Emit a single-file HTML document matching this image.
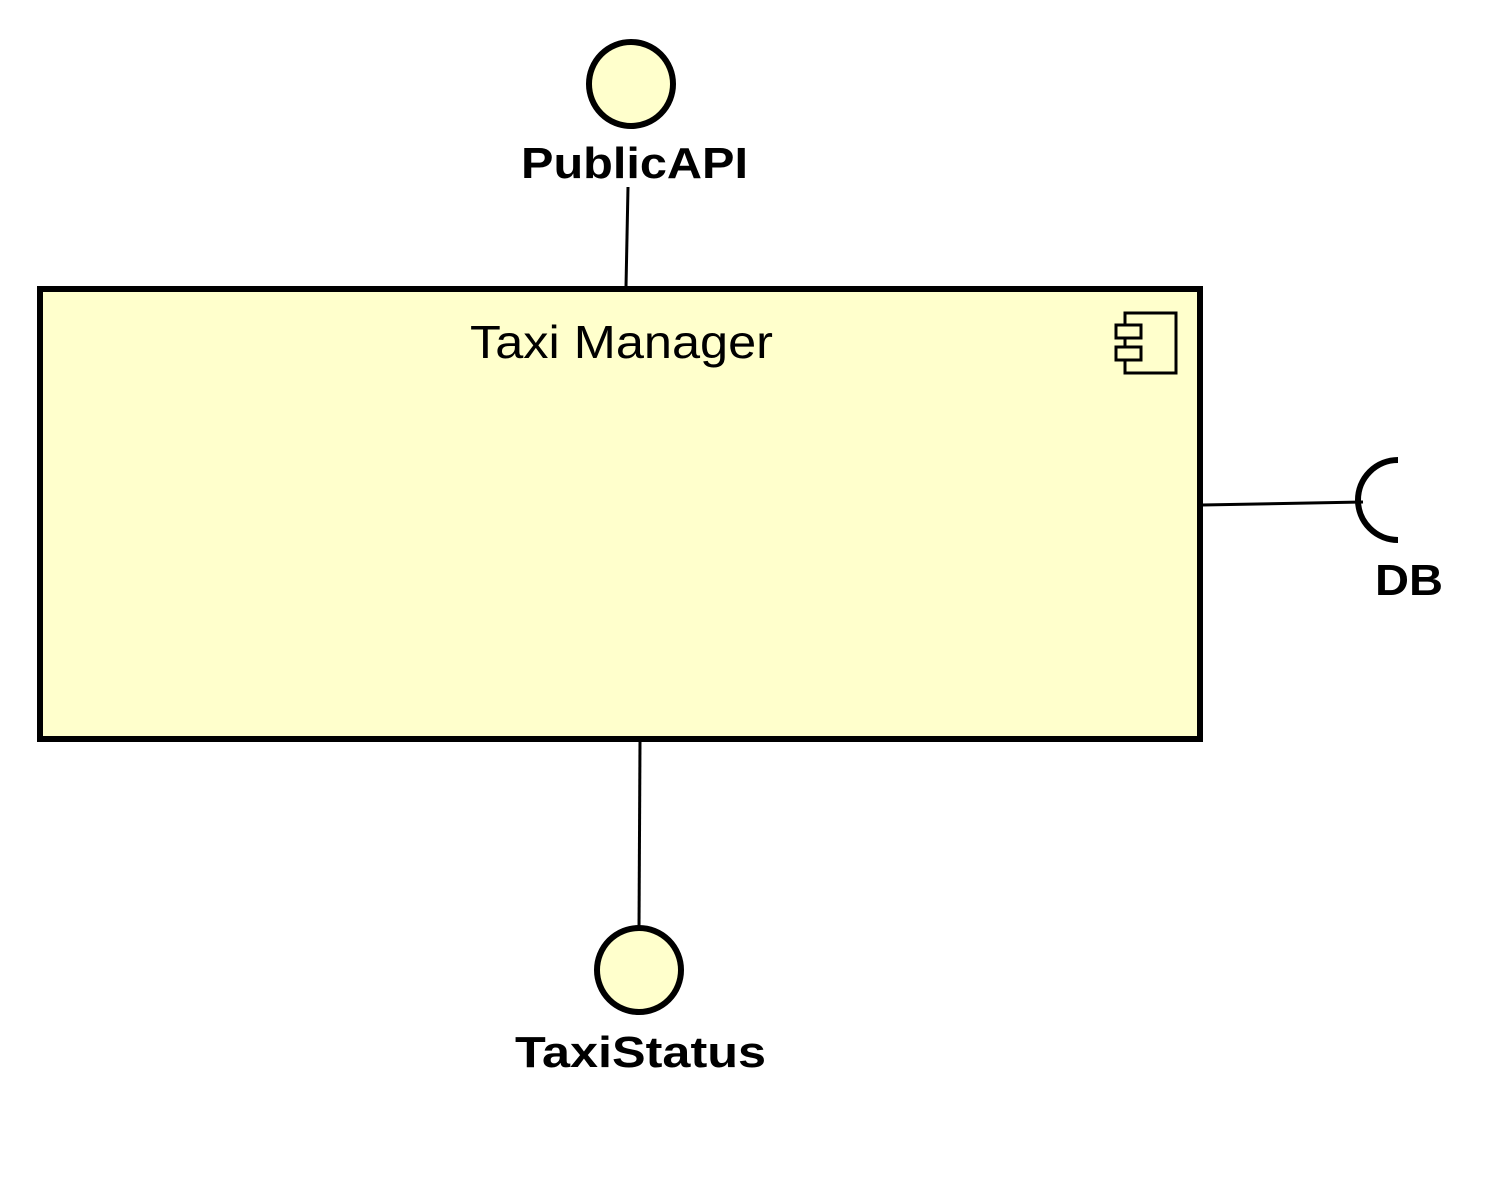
<!DOCTYPE html>
<html><head><meta charset="utf-8"><style>html,body{margin:0;padding:0;background:#fff}</style></head>
<body>
<svg width="1491" height="1195" xmlns="http://www.w3.org/2000/svg" style="display:block">
<rect x="0" y="0" width="1491" height="1195" fill="#fff"/>
<line x1="628" y1="187" x2="626" y2="287" stroke="#000" stroke-width="3"/>
<line x1="640" y1="741" x2="639" y2="928" stroke="#000" stroke-width="3"/>
<line x1="1202" y1="505" x2="1363" y2="502" stroke="#000" stroke-width="3"/>
<rect x="40" y="289" width="1160" height="450" fill="#ffffcc" stroke="#000" stroke-width="6"/>
<rect x="1125" y="313" width="51" height="60" fill="none" stroke="#000" stroke-width="3"/>
<rect x="1116" y="325" width="25" height="13" fill="#ffffcc" stroke="#000" stroke-width="3"/>
<rect x="1116" y="347" width="25" height="13" fill="#ffffcc" stroke="#000" stroke-width="3"/>
<circle cx="631" cy="84" r="42" fill="#ffffcc" stroke="#000" stroke-width="6"/>
<circle cx="639" cy="970" r="42" fill="#ffffcc" stroke="#000" stroke-width="6"/>
<path d="M1398 460 A40 40 0 0 0 1398 540" fill="none" stroke="#000" stroke-width="6"/>
<g font-family="Liberation Sans, sans-serif" fill="#000">
<text x="521" y="178" font-size="44" font-weight="bold" textLength="227" lengthAdjust="spacingAndGlyphs">PublicAPI</text>
<text x="470" y="358" font-size="46" textLength="303" lengthAdjust="spacingAndGlyphs">Taxi Manager</text>
<text x="1375" y="595" font-size="44" font-weight="bold" textLength="68" lengthAdjust="spacingAndGlyphs">DB</text>
<text x="515" y="1067" font-size="44" font-weight="bold" textLength="251" lengthAdjust="spacingAndGlyphs">TaxiStatus</text>
</g>
</svg>
</body></html>
